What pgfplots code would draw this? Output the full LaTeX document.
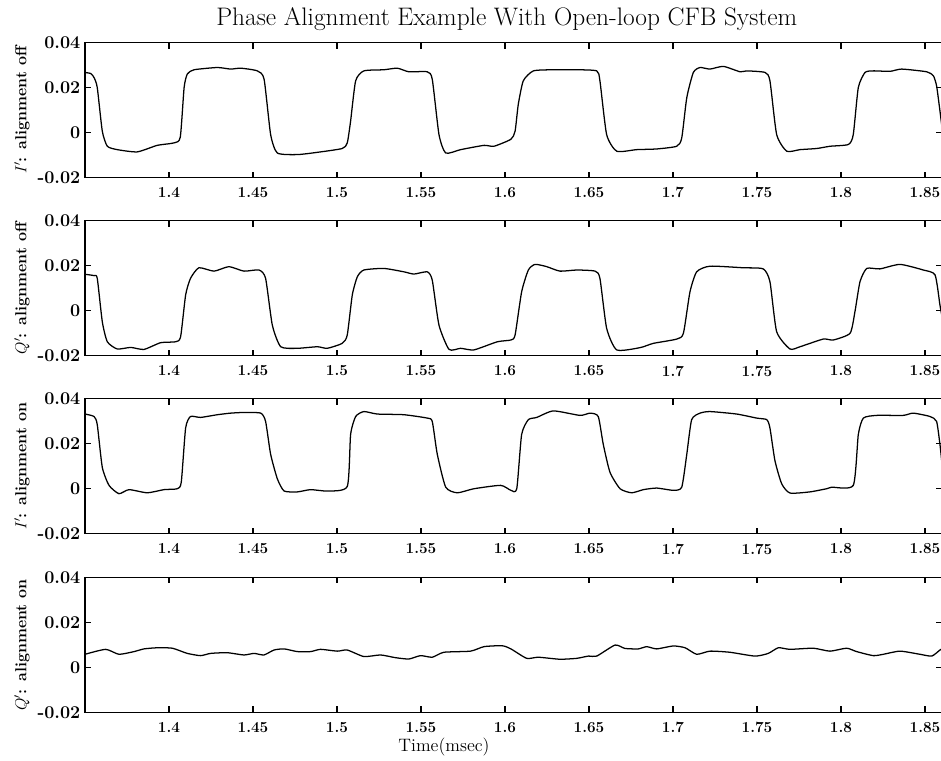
\documentclass[border=0pt]{standalone}
\usepackage{pgfplots}
\pgfplotsset{compat=1.18}
\pgfplotstableread{
x y
1.350 0.0267
1.3535 0.0262
1.3554 0.0244
1.3573 0.0200
1.3603 0.0006
1.3633 -0.0061
1.3692 -0.0076
1.3811 -0.0086
1.393 -0.0057
1.403 -0.0046
1.4067 -0.0021
1.409 0.0200
1.4109 0.0260
1.4149 0.0279
1.4288 0.0289
1.4367 0.0282
1.4427 0.0286
1.4526 0.0274
1.4566 0.0237
1.4605 -0.0009
1.4645 -0.0091
1.4764 -0.0098
1.4883 -0.0088
1.5031 -0.0071
1.5061 -0.0046
1.5081 0.0051
1.5111 0.0230
1.516 0.0274
1.5279 0.0279
1.5359 0.0286
1.5428 0.0270
1.5537 0.0270
1.5567 0.0237
1.5607 -0.0009
1.5647 -0.0091
1.5736 -0.0076
1.5875 -0.0057
1.5934 -0.0061
1.6035 -0.0030
1.6060 0.0006
1.6079 0.0125
1.6109 0.0230
1.6169 0.0274
1.6288 0.0279
1.6427 0.0279
1.6546 0.0274
1.6565 0.0230
1.6605 -0.0009
1.6665 -0.0083
1.6784 -0.0076
1.6903 -0.0073
1.7022 -0.0061
1.7052 -0.0024
1.7082 0.0155
1.7121 0.0267
1.7161 0.0289
1.722 0.0282
1.73 0.0294
1.7399 0.0270
1.7438 0.0274
1.7548 0.0267
1.7577 0.0230
1.7617 -0.0009
1.7677 -0.0083
1.7756 -0.0076
1.7855 -0.0071
1.7935 -0.0061
1.8044 -0.0053
1.8073 -0.0009
1.8103 0.0200
1.8143 0.0267
1.8192 0.0274
1.8292 0.0272
1.8361 0.0282
1.851 0.0270
1.855 0.0252
1.8569 0.0207
1.8589 0.0096
1.860 0.0030
}\panelA
\pgfplotstableread{
x y
1.350 0.0162
1.3554 0.0156
1.3573 0.0144
1.3603 -0.0049
1.3633 -0.0138
1.3692 -0.0170
1.3772 -0.0163
1.3851 -0.0172
1.395 -0.0142
1.4039 -0.0138
1.4069 -0.0116
1.4099 0.0070
1.4128 0.0144
1.4178 0.0191
1.4268 0.0176
1.4357 0.0196
1.4446 0.0176
1.4536 0.0181
1.4575 0.0144
1.4615 -0.0064
1.4665 -0.0160
1.4764 -0.0167
1.4883 -0.0160
1.4942 -0.0167
1.5031 -0.0145
1.5061 -0.0108
1.5091 0.0070
1.5121 0.0151
1.516 0.0181
1.5279 0.0188
1.5398 0.0173
1.5458 0.0163
1.5537 0.0173
1.5567 0.0136
1.5607 -0.0064
1.5667 -0.0172
1.5736 -0.0167
1.5815 -0.0174
1.5954 -0.0138
1.6035 -0.0130
1.606 -0.0108
1.6099 0.0084
1.6139 0.0181
1.6179 0.0206
1.6248 0.0196
1.6327 0.0176
1.6427 0.0181
1.6536 0.0176
1.6565 0.0144
1.6605 -0.0078
1.6665 -0.0174
1.6804 -0.0164
1.6883 -0.0145
1.7022 -0.0126
1.7062 -0.0100
1.7101 0.0084
1.7141 0.0173
1.722 0.0198
1.7418 0.0191
1.7537 0.0186
1.7577 0.0129
1.7617 -0.0093
1.7696 -0.0170
1.7756 -0.0160
1.7894 -0.0126
1.7954 -0.0130
1.8054 -0.0100
1.8083 -0.0004
1.8113 0.0129
1.8153 0.0188
1.8232 0.0186
1.8351 0.0206
1.849 0.0181
1.856 0.0159
1.8589 0.0025
1.860 -0.0020
}\panelB
\pgfplotstableread{
x y
1.350 0.0332
1.3554 0.0321
1.3573 0.0285
1.3603 0.0095
1.3643 0.0015
1.3702 -0.0022
1.3762 -0.0004
1.3871 -0.0018
1.397 -0.0004
1.4049 0.0000
1.4073 0.0029
1.4099 0.0270
1.4128 0.0321
1.4188 0.0317
1.4288 0.0329
1.4367 0.0336
1.4446 0.0339
1.4546 0.0336
1.4575 0.0299
1.4605 0.0153
1.4645 0.0044
1.4685 -0.0010
1.4764 -0.0014
1.4843 -0.0004
1.4942 -0.0010
1.5061 0.0010
1.5081 0.0241
1.5111 0.0321
1.516 0.0343
1.524 0.0332
1.5398 0.0329
1.5537 0.0314
1.5567 0.0299
1.5597 0.0153
1.5647 0.0007
1.5716 -0.0018
1.5815 0.0000
1.5974 0.0015
1.6035 -0.0007
1.607 0.0000
1.6099 0.0241
1.6139 0.0307
1.6189 0.0317
1.6288 0.0346
1.6446 0.0326
1.6506 0.0336
1.6555 0.0321
1.6585 0.0197
1.6625 0.0073
1.6685 0.0000
1.6754 -0.0018
1.6824 -0.0004
1.6903 0.0003
1.7002 -0.0007
1.7052 0.0007
1.7082 0.0153
1.7111 0.0307
1.7161 0.0336
1.722 0.0343
1.7379 0.0332
1.7498 0.0314
1.7558 0.0307
1.7577 0.0270
1.7607 0.0124
1.7647 0.0022
1.7696 -0.0019
1.7815 -0.0014
1.7914 0.0000
1.7944 0.0007
1.8073 0.0015
1.8103 0.0241
1.8133 0.0314
1.8212 0.0326
1.837 0.0326
1.843 0.0336
1.853 0.0321
1.8569 0.0299
1.8589 0.0197
1.860 0.0120
}\panelC
\pgfplotstableread{
x y
1.350 0.0058
1.3623 0.0080
1.3702 0.0058
1.3792 0.0070
1.3851 0.0082
1.393 0.0087
1.402 0.0085
1.4109 0.0062
1.4188 0.0052
1.4248 0.0062
1.4347 0.0065
1.4446 0.0055
1.4506 0.0062
1.4565 0.0055
1.4625 0.0077
1.4685 0.0082
1.4764 0.0070
1.4843 0.0070
1.4902 0.0080
1.5002 0.0072
1.5061 0.0077
1.516 0.0048
1.5259 0.0055
1.5348 0.0043
1.5428 0.0037
1.5497 0.0052
1.5567 0.0045
1.5636 0.0067
1.5795 0.0072
1.5875 0.0092
1.5983 0.0096
1.6035 0.0082
1.6129 0.0040
1.6198 0.0045
1.6327 0.0036
1.6427 0.0040
1.6496 0.0050
1.6546 0.0050
1.6655 0.0099
1.6714 0.0084
1.6794 0.0082
1.6843 0.0092
1.6903 0.0082
1.7002 0.0095
1.7072 0.0087
1.7141 0.0058
1.722 0.0072
1.7339 0.0067
1.7488 0.0050
1.7567 0.0062
1.7627 0.0087
1.7696 0.0080
1.7835 0.0085
1.7934 0.0072
1.8033 0.0085
1.8093 0.0070
1.8192 0.0052
1.8252 0.0058
1.8351 0.0072
1.847 0.0058
1.854 0.0050
1.8589 0.0077
1.860 0.0082
}\panelD
\pgfplotsset{
  panel/.style={
    scale only axis,
    width=642.6pt, height=101.25pt,
    anchor=north west,
    xmin=1.35, xmax=1.86,
    ymin=-0.02, ymax=0.04,
    scaled x ticks=false, scaled y ticks=false,
    xtick={1.4,1.45,1.5,1.55,1.6,1.65,1.7,1.75,1.8,1.85},
    xticklabels={1.4,1.45,1.5,1.55,1.6,1.65,1.7,1.75,1.8,1.85},
    ytick={-0.02,0,0.02,0.04},
    yticklabels={-0.02,0,0.02,0.04},
    xticklabel style={font=\bfseries\fontsize{11.5}{13}\selectfont, yshift=-4pt},
    yticklabel style={font=\bfseries\fontsize{13.5}{15}\selectfont},
    tick align=inside,
    major tick length=4.5pt,
    axis line style={line width=0.9pt},
    every tick/.style={line width=0.9pt, black},
    ylabel style={font=\bfseries\fontsize{12}{14}\selectfont,
      at={(axis description cs:-0.0735,0.5)}, anchor=center},
    clip=true,
  },
  curve/.style={black, line width=0.95pt, line join=round, smooth, tension=0.35},
}
\begin{document}
\begin{tikzpicture}
\useasboundingbox (-63.75pt,31.9pt) rectangle (642pt,-538.1pt);
\begin{axis}[panel, at={(0pt,0pt)},
  ylabel={$I'$: alignment off},
  title={Phase Alignment Example With Open-loop CFB System},
  title style={font=\fontsize{19}{22}\selectfont, yshift=-1pt, xshift=-5pt}]
\addplot[curve] table[x=x,y=y] {\panelA};
\end{axis}
\begin{axis}[panel, at={(0pt,-133.65pt)},
  ylabel={$Q'$: alignment off}]
\addplot[curve] table[x=x,y=y] {\panelB};
\end{axis}
\begin{axis}[panel, at={(0pt,-267.15pt)},
  ylabel={$I'$: alignment on}]
\addplot[curve] table[x=x,y=y] {\panelC};
\end{axis}
\begin{axis}[panel, at={(0pt,-401.1pt)},
  ylabel={$Q'$: alignment on},
  xlabel={Time(msec)},
  xlabel style={font=\normalfont\fontsize{13.5}{15}\selectfont,
    at={(axis description cs:0.419,0)}, anchor=center, yshift=-26pt}]
\addplot[curve] table[x=x,y=y] {\panelD};
\end{axis}
\end{tikzpicture}
\end{document}
